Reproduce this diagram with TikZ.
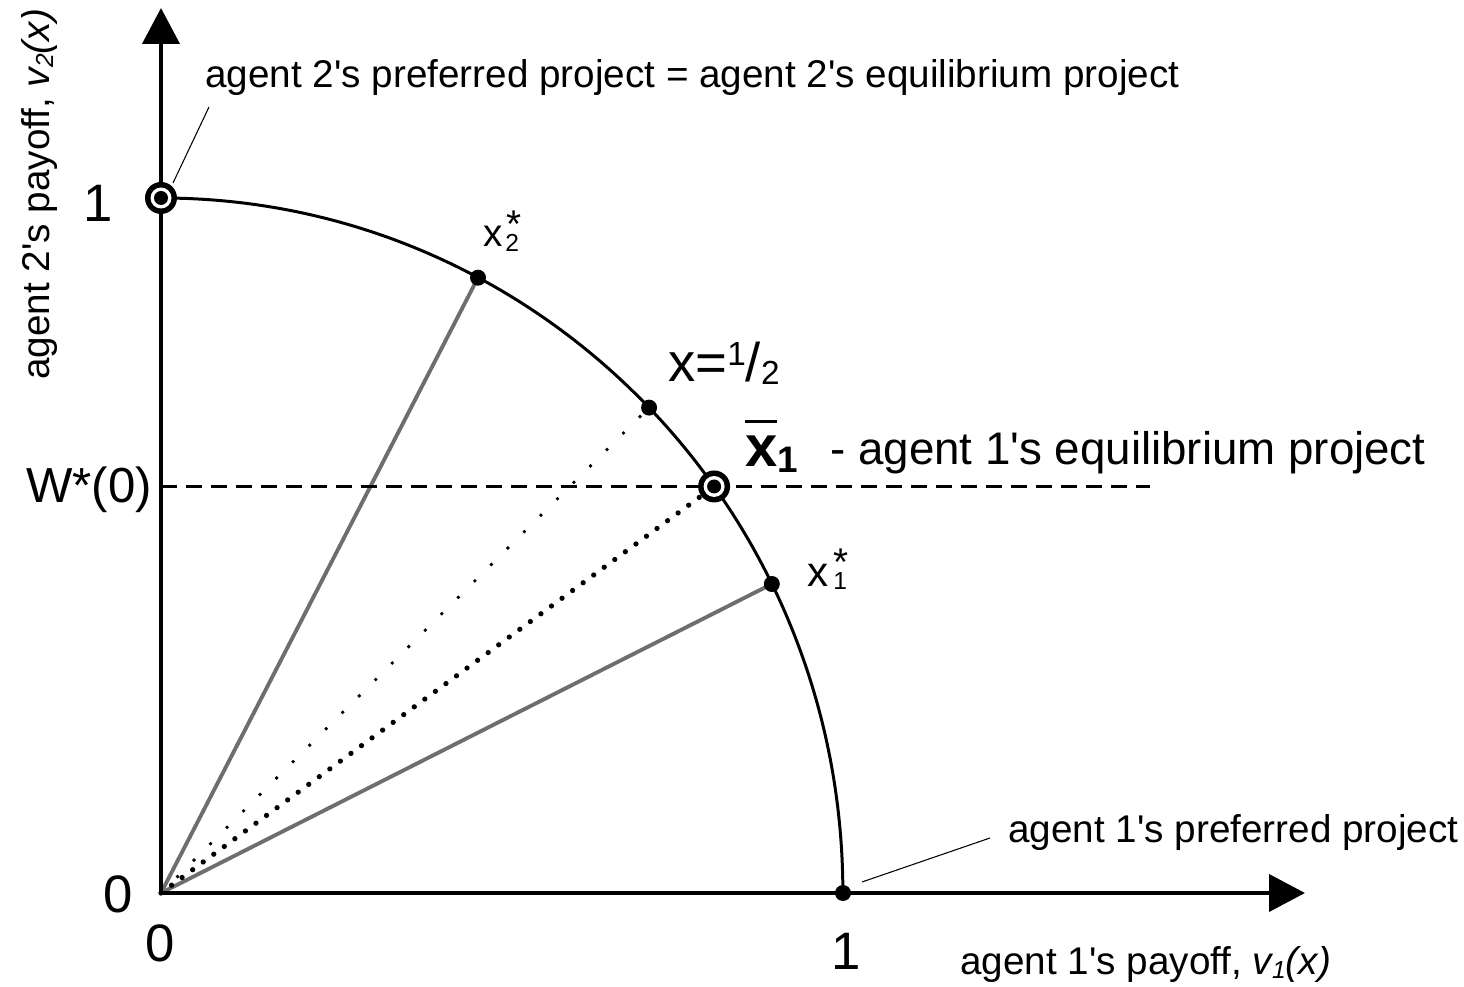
\documentclass[tikz,border=0pt]{standalone}
\usepackage{fontspec}
\setmainfont{Liberation Sans}[Ligatures=TeXOff]
\usetikzlibrary{arrows.meta,calc}
\newcommand{\ap}{'}
\newcommand{\startxt}{\raisebox{0pt}[0.73em][-0.40em]{*}}
\begin{document}
\begin{tikzpicture}[x=0.02cm,y=0.02cm,
  axis/.style={line width=2.3pt,-{Triangle[length=0.72cm,width=0.74cm]}},
  front/.style={line width=1.7pt},
  ray/.style={line width=2.2pt,draw={rgb,255:red,110;green,110;blue,110}},
  leader/.style={line width=0.6pt},
  wdash/.style={line width=1.6pt,dash pattern=on 0.32cm off 0.18cm},
  sparse/.style={line width=2.2pt,line cap=round,dash pattern=on 0pt off 0.466cm},
  dense/.style={line width=3pt,line cap=round,dash pattern=on 0pt off 0.262cm},
  dig/.style={font=\fontsize{30}{33}\selectfont,inner sep=0pt},
  lab/.style={font=\fontsize{22}{26}\selectfont,inner sep=0pt},
  biglab/.style={font=\fontsize{26}{30}\selectfont,inner sep=0pt},
  txt/.style={inner sep=0pt}
]
\useasboundingbox (0,0) rectangle (1464,987);
% key points
\coordinate (O) at (161,94);
\coordinate (Xend) at (1305,94);
\coordinate (Yend) at (161,979);
\coordinate (Y1) at (161,789);
\coordinate (X1) at (843,94);
\coordinate (P2) at ($(O)+({682*cos(62.3)},{695*sin(62.3)})$);
\coordinate (PH) at ($(O)+({682*cos(44.3)},{695*sin(44.3)})$);
\coordinate (XB) at ($(O)+({682*cos(35.8)},{695*sin(35.8)})$);
\coordinate (P1) at ($(O)+({682*cos(26.4)},{695*sin(26.4)})$);
\coordinate (Wend) at (1150,0 |- XB);
\coordinate (Wstart) at (161,0 |- XB);
% rays
\draw[ray] (O) -- (P2);
\draw[ray] (O) -- (P1);
\draw[sparse] (O) -- (PH);
\draw[dense] (O) -- (XB);
% dashed W line
\draw[wdash] (Wstart) -- (Wend);
% frontier
\draw[front] (Y1) arc[start angle=90,end angle=0,x radius=13.64cm,y radius=13.9cm];
% axes
\draw[axis] (O) -- (Xend);
\draw[axis] (O) -- (Yend);
% markers
\foreach \p in {P2,PH,P1,X1} \fill (\p) circle (0.16cm);
\foreach \p in {Y1,XB} {
  \fill (\p) circle (0.32cm);
  \fill[white] (\p) circle (0.21cm);
  \fill (\p) circle (0.14cm);
}
% labels
\node[dig,anchor=base east] (l1y) at (113,765) {1};
\node[dig,anchor=base east] (l0y) at (133,74) {0};
\node[dig,anchor=base] (l0x) at (160,25) {0};
\node[dig,anchor=base] (l1x) at (846,17) {1};
\node[font=\fontsize{28}{30}\selectfont,inner sep=0pt,anchor=base west] (W) at (26,484) {W*(0)};
\node[lab,rotate=90,anchor=base west] (ylab) at (50,607)
  {agent 2\ap s payoff, \textit{v\raisebox{-2pt}{\fontsize{14}{14}\selectfont 2}(x)}};
\node[lab,anchor=base west] (xlab) at (960,12)
  {agent 1\ap s payoff, \textit{v\raisebox{-2pt}{\fontsize{14}{14}\selectfont 1}(x)}};
\node[lab,anchor=base west] (pref2) at (205,899)
  {agent 2\ap s preferred project = agent 2\ap s equilibrium project};
\node[lab,anchor=base west] (pref1) at (1008,144) {agent 1\ap s preferred project};
\node[biglab,anchor=base west] (eq1) at (830,522) {- agent 1\ap s equilibrium project};
% x2*
\node[txt,font=\fontsize{22}{24}\selectfont,anchor=base west] (lx2) at (483,740) {x};
\node[txt,font=\fontsize{14}{14}\selectfont,anchor=base west] (lx2s) at (505,735) {2};
\node[txt,font=\fontsize{22}{22}\selectfont,anchor=north west] (lx2t) at (506,778) {\startxt};
% x1*
\node[txt,font=\fontsize{24}{26}\selectfont,anchor=base west] (lx1) at (807,400) {x};
\node[txt,font=\fontsize{14}{14}\selectfont,anchor=base west] (lx1s) at (833,397) {1};
\node[txt,font=\fontsize{22}{22}\selectfont,anchor=north west] (lx1t) at (833,440) {\startxt};
% x = 1/2
\node[font=\fontsize{31}{34}\selectfont,inner sep=0pt,anchor=base west] (lhalf) at (668,605)
  {x=\raisebox{9.6pt}{\fontsize{19}{19}\selectfont 1}/\raisebox{-1.7pt}{\fontsize{19}{19}\selectfont 2}};
% x bar 1
\node[font=\fontsize{33}{36}\bfseries\selectfont,inner sep=0pt,anchor=base west] (lxb) at (745,520)
  {\rlap{\rule[25pt]{18pt}{1.8pt}}x\raisebox{-3pt}{\fontsize{21}{21}\selectfont 1}};
% leader lines
\coordinate (L2a) at (173,804);
\coordinate (L2b) at (209,880);
\coordinate (L1a) at (862,105);
\coordinate (L1b) at (990,149);
\draw[leader] (L2a) -- (L2b);
\draw[leader] (L1a) -- (L1b);
\end{tikzpicture}
\end{document}
